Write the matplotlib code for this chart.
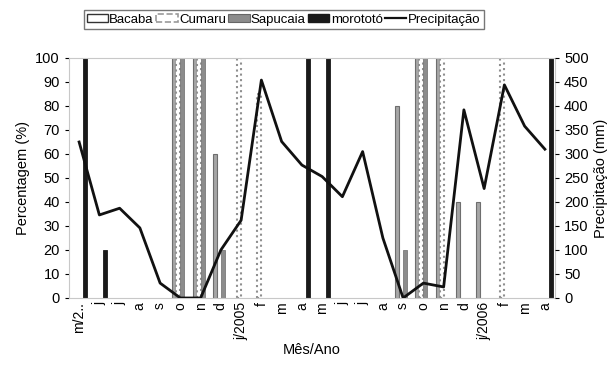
import numpy as np
import matplotlib.pyplot as plt
from matplotlib.patches import Patch
from matplotlib.lines import Line2D

plt.rcParams['font.family'] = ['Liberation Sans', 'DejaVu Sans']

meses = ['m/2..', 'j', 'j', 'a', 's', 'o', 'n', 'd', 'j/2005', 'f', 'm', 'a',
         'm', 'j', 'j', 'a', 's', 'o', 'n', 'd', 'j/2006', 'f', 'm', 'a']

# percentagem por espécie (%)
bacaba   = [0, 0, 0, 0, 0, 100, 100, 60, 0, 0, 0, 0, 0, 0, 0, 0, 80, 100, 100, 40, 40, 0, 0, 0]
cumaru   = [0, 0, 0, 0, 0, 100, 100, 0, 100, 85, 0, 0, 0, 0, 0, 0, 0, 100, 100, 0, 0, 100, 0, 0]
sapucaia = [0, 0, 0, 0, 0, 100, 100, 20, 0, 0, 0, 0, 0, 0, 0, 0, 20, 100, 0, 0, 0, 0, 0, 0]
morototo = [100, 20, 0, 0, 0, 0, 0, 0, 0, 0, 0, 100, 100, 0, 0, 0, 0, 0, 0, 0, 0, 0, 0, 100]

# precipitação (mm)
precip = [325, 173, 187, 146, 31, 0, 0, 100, 162, 454, 326, 277, 253, 211, 305, 125,
          0, 31, 23, 392, 228, 444, 358, 310]

x = np.arange(len(meses))
w = 0.2

fig = plt.figure(figsize=(6.16, 3.65), dpi=100)
ax = fig.add_axes([0.112, 0.1836, 0.789, 0.6575])

estilos = [
    (bacaba, dict(color='#a6a6a6', edgecolor='#6e6e6e', linewidth=0.8)),
    (cumaru, dict(color='white', edgecolor='#8f8f8f', linewidth=1.5, linestyle=':')),
    (sapucaia, dict(color='#8c8c8c', edgecolor='#7a7a7a', linewidth=0.6)),
    (morototo, dict(color='#1a1a1a', edgecolor='#1a1a1a', linewidth=0.6)),
]
for k, (vals, st) in enumerate(estilos):
    barras = ax.bar(x + (k - 1.5) * w, vals, w, **st)
    for b in barras:
        if b.get_height() == 0:
            b.set_visible(False)

ax.set_xlim(-0.5, len(meses) - 0.5)
ax.set_ylim(0, 100)
ax.set_yticks(np.arange(0, 101, 10))
ax.set_xticks(x)
ax.set_xticklabels(meses, rotation=90, fontsize=10)
ax.tick_params(axis='y', labelsize=10.5, length=3)
ax.tick_params(axis='x', length=0, pad=3)
ax.set_ylabel('Percentagem (%)', fontsize=10.5)
ax.set_xlabel('Mês/Ano', fontsize=10.5, labelpad=2)
for s in ['top', 'left', 'right', 'bottom']:
    ax.spines[s].set_color('#c8c8c8')

ax2 = ax.twinx()
ax2.plot(x, precip, color='#111111', linewidth=2)
ax2.set_ylim(0, 500)
ax2.set_yticks(np.arange(0, 501, 50))
ax2.tick_params(axis='y', labelsize=10.5, length=3)
ax2.set_ylabel('Precipitação (mm)', fontsize=10.5)
for s in ['top', 'left', 'right', 'bottom']:
    ax2.spines[s].set_visible(False)

handles = [
    Patch(facecolor='white', edgecolor='#333333', linewidth=1.0),
    Patch(facecolor='white', edgecolor='#999999', linewidth=1.2, linestyle='--'),
    Patch(facecolor='#8c8c8c', edgecolor='#666666', linewidth=0.8),
    Patch(facecolor='#1a1a1a', edgecolor='#1a1a1a'),
    Line2D([0], [0], color='#111111', linewidth=1.6),
]
labels = ['Bacaba', 'Cumaru', 'Sapucaia', 'morototó', 'Precipitação']
fig.legend(handles, labels, loc='upper left', bbox_to_anchor=(0.125, 0.99), ncol=5,
           fontsize=9.5, frameon=True, fancybox=False, edgecolor='#555555',
           handlelength=1.6, handletextpad=0.1, columnspacing=0.2,
           borderpad=0.25, handleheight=0.5)

fig.savefig('out.png', dpi=100)
